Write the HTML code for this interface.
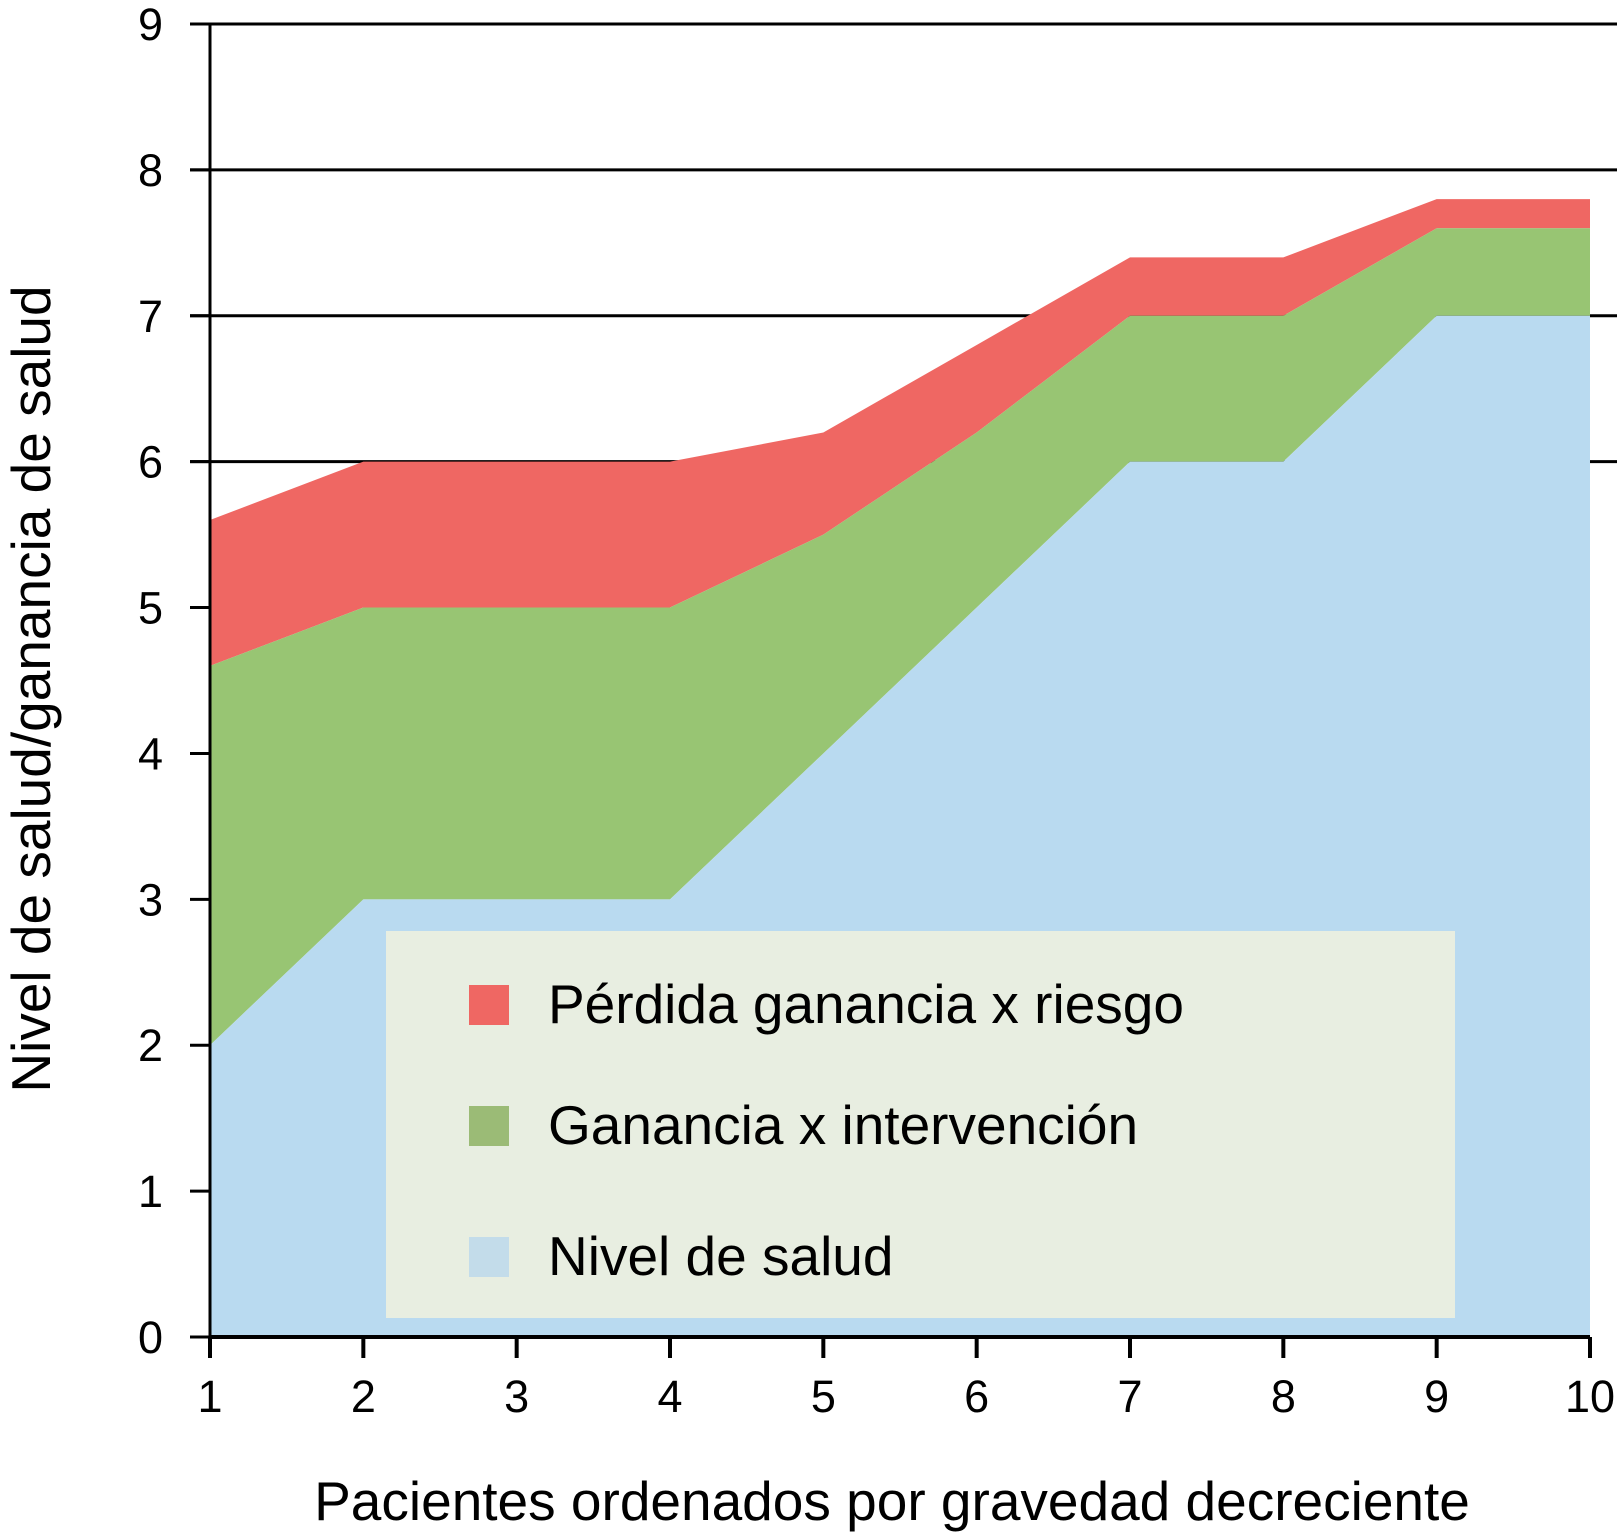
<!DOCTYPE html>
<html><head><meta charset="utf-8"><style>
body{margin:0;background:#fff;}
svg{display:block;font-family:"Liberation Sans",sans-serif;}
</style></head><body>
<svg id="chart" width="1617" height="1532" viewBox="0 0 1617 1532"></svg>
<script>
const categories=[1,2,3,4,5,6,7,8,9,10];
const healthLevel=[2,3,3,3,4,5,6,6,7,7];
const interventionGain=[2.6,2,2,2,1.5,1.2,1,1,0.6,0.6];
const riskLoss=[1,1,1,1,0.7,0.6,0.4,0.4,0.2,0.2];
const yTicks=[0,1,2,3,4,5,6,7,8,9];
const gridValues=[6,7,8,9];
const NS='http://www.w3.org/2000/svg';
const svg=document.getElementById('chart');
const x0=210,x1=1590,y0=1337,y9=24;
const xs=v=>x0+(v-1)*(x1-x0)/9;
const ys=v=>y0-v*(y0-y9)/9;
function mk(t,a,p){const e=document.createElementNS(NS,t);for(const k in a)e.setAttribute(k,a[k]);(p||svg).appendChild(e);return e;}
gridValues.forEach(v=>{
 const l=mk('line',{x1:190,x2:1617,y1:ys(v),y2:ys(v),stroke:'#000','stroke-width':3});
 
 
});
const cum1=healthLevel.slice();
const cum2=healthLevel.map((h,i)=>h+interventionGain[i]);
const cum3=cum2.map((c,i)=>c+riskLoss[i]);
function area(top,bot,color,name){
 let d='M'+categories.map((c,i)=>xs(c)+','+ys(top[i])).join('L');
 for(let i=categories.length-1;i>=0;i--)d+='L'+xs(categories[i])+','+ys(bot?bot[i]:0);
 const p=mk('path',{d:d+'Z',fill:color});
 
 
}
area(cum3,cum2,'#ef6763','area-risk-loss');
area(cum2,cum1,'#98c573','area-intervention-gain');
area(cum1,null,'#b9daf0','area-health-level');
const ya=mk('line',{x1:x0,x2:x0,y1:y9,y2:y0,stroke:'#000','stroke-width':3});

const xa=mk('line',{x1:x0,x2:x1,y1:y0,y2:y0,stroke:'#000','stroke-width':4});

yTicks.forEach(v=>{
 mk('line',{x1:190,x2:x0,y1:ys(v),y2:ys(v),stroke:'#000','stroke-width':3});
 const t=mk('text',{x:163,y:ys(v)+16,'font-size':45,'text-anchor':'end'});
 t.textContent=v;
 
 
});
categories.forEach(c=>{
 mk('line',{x1:xs(c),x2:xs(c),y1:y0,y2:y0+21,stroke:'#000','stroke-width':4});
 const t=mk('text',{x:xs(c),y:1412,'font-size':45,'text-anchor':'middle'});
 t.textContent=c;
 
 
});
const xt=mk('text',{x:892,y:1520,'font-size':55,'text-anchor':'middle'});
xt.textContent='Pacientes ordenados por gravedad decreciente';

const yt=mk('text',{x:0,y:0,'font-size':55,'text-anchor':'middle',transform:'translate(50,689) rotate(-90)'});
yt.textContent='Nivel de salud/ganancia de salud';

const lg=mk('g',{});

mk('rect',{x:386,y:931,width:1069,height:387,fill:'#e8eee1'},lg);
[['Pérdida ganancia x riesgo','#ef6763',985],['Ganancia x intervención','#9bbb76',1106],['Nivel de salud','#c3dcea',1237]].forEach(([lab,col,y])=>{
 const g=mk('g',{},lg);
 
 mk('rect',{x:469,y:y,width:40,height:40,fill:col},g);
 const t=mk('text',{x:548,y:y+38,'font-size':55},g);
 t.textContent=lab;
});
</script>
</body></html>
